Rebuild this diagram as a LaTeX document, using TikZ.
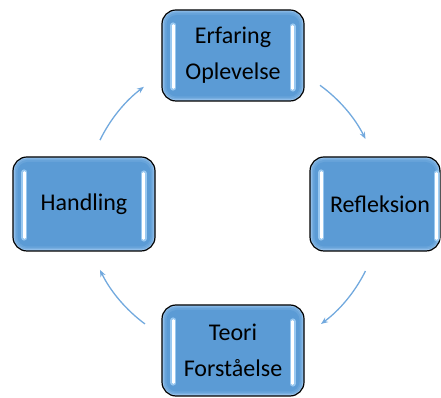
\documentclass[tikz,border=0pt]{standalone}
\usepackage{fontspec}
\setmainfont{Carlito}
\usetikzlibrary{arrows.meta,calc}
\definecolor{boxmain}{HTML}{5B9BD5}
\definecolor{boxlight}{HTML}{9CC6EE}
\definecolor{arrowblue}{HTML}{72A9DE}
\definecolor{glowblue}{HTML}{A9D4F7}
\tikzset{
  boxnode/.style={draw=black, line width=1.2pt, rounded corners=14pt, fill=boxlight,
    minimum width=142pt, minimum height=92pt, inner sep=0pt, align=center,
    font=\fontsize{24pt}{36pt}\selectfont,
    path picture={
      \fill[boxmain!55!boxlight, rounded corners=12pt]
        ([shift={(1.5pt,1.5pt)}]path picture bounding box.south west) rectangle
        ([shift={(-1.5pt,-1.5pt)}]path picture bounding box.north east);
      \fill[boxmain!80!boxlight, rounded corners=11pt]
        ([shift={(3pt,3pt)}]path picture bounding box.south west) rectangle
        ([shift={(-3pt,-3pt)}]path picture bounding box.north east);
      \fill[boxmain, rounded corners=10pt]
        ([shift={(4.5pt,4.5pt)}]path picture bounding box.south west) rectangle
        ([shift={(-4.5pt,-5pt)}]path picture bounding box.north east);
    }},
  glowbar/.style={line width=6pt, glowblue, line cap=round, opacity=0.8},
  whitebar/.style={line width=2.5pt, white, line cap=round},
  cyclearrow/.style={arrowblue, line width=1.3pt, -{Stealth[length=7pt,width=5.5pt]}}
}
\newcommand{\mybars}[2]{%
  \draw[glowbar] ([shift={(12pt,-16pt)}]#1.north west) -- ([shift={(12pt,14pt)}]#1.south west);
  \draw[glowbar] ([shift={(-#2,-17pt)}]#1.north east) -- ([shift={(-#2,13pt)}]#1.south east);
  \draw[whitebar] ([shift={(12pt,-16pt)}]#1.north west) -- ([shift={(12pt,14pt)}]#1.south west);
  \draw[whitebar] ([shift={(-#2,-17pt)}]#1.north east) -- ([shift={(-#2,13pt)}]#1.south east);
}
\begin{document}
\begin{tikzpicture}[x=1pt,y=1pt]
\useasboundingbox (0,0) rectangle (441,398);
\node[boxnode, minimum height=91pt] (top) at (233,342.5) {Erfaring\\Oplevelse};
\node[boxnode, minimum height=94pt] (left) at (84,194) {Handling};
\node[boxnode, minimum height=94pt, minimum width=130pt] (right) at (375,194) {\hspace*{10pt}Refleksion};
\node[boxnode, minimum height=91pt] (bottom) at (233,47.5) {Teori\\Forståelse};
\mybars{top}{12pt}
\mybars{left}{12pt}
\mybars{right}{4pt}
\mybars{bottom}{12pt}
\coordinate (c) at (233,193);
\coordinate (s1) at ($(c)+(154:148)$);
\coordinate (s2) at ($(c)+(54:148)$);
\coordinate (s3) at ($(c)+(-26.5:148)$);
\coordinate (s4) at ($(c)+(-126.5:148)$);
\draw[cyclearrow] (s1) arc[start angle=154, end angle=127, radius=148];
\draw[cyclearrow] (s2) arc[start angle=54, end angle=26.5, radius=148];
\draw[cyclearrow] (s3) arc[start angle=-26.5, end angle=-53.5, radius=148];
\draw[cyclearrow] (s4) arc[start angle=-126.5, end angle=-154, radius=148];
\end{tikzpicture}
\end{document}
